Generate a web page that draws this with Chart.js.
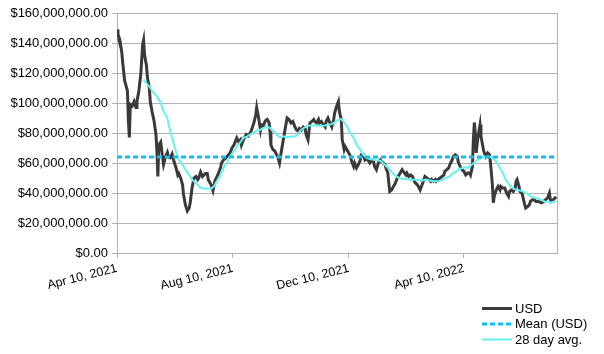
<!DOCTYPE html>
<html>
<head>
<meta charset="utf-8">
<script src="https://cdn.jsdelivr.net/npm/chart.js@4"></script>
<style>
  html, body { margin: 0; padding: 0; background: #fff; }
  canvas { display: block; }
</style>
</head>
<body>
<canvas id="usdChart" width="604" height="354"></canvas>
<script>
// days counted from Apr 10, 2021
const usdDays = [0,1,3,5,6,8,11,12,13,14,16,18,20,21,23,25,27,28,29,31,32,34,35,37,39,41,42,43,44,46,48,49,51,53,54,56,58,60,62,64,65,67,69,70,72,74,76,77,79,81,83,85,86,88,90,93,
  95,96,99,101,103,106,109,110,112,114,116,119,121,123,126,128,130,131,133,136,138,141,144,146,147,149,151,152,154,156,158,160,161,162,164,166,168,169,171,173,175,177,179,181,183,185,
  187,189,191,192,194,196,198,199,201,203,205,207,208,210,212,213,215,217,219,220,222,224,226,228,229,231,233,234,236,237,239,240,243,245,247,249,250,252,254,256,257,259,261,263,264,266,268,270,271,273,275,277,
  278,280,282,283,285,286,287,289,291,293,295,298,300,301,304,305,307,309,311,312,314,316,318,319,321,323,324,326,328,330,331,333,335,336,338,340,342,344,345,347,349,351,352,354,356,358,359,361,363,365,367,369,
  371,372,374,375,376,377,378,379,380,382,383,385,386,388,390,392,393,394,395,396,397,399,401,403,404,406,408,410,412,413,415,417,419,420,421,423,424,426,427,429,430,432,434,435,437,439,441,442,444,446,447,449,451,453,455,456,457,459,461,462];
// USD, in millions
const usdMillions = [149,146,142,134,127,115,108,88,77,99,98,101,97,101,108,119,139,142,132,125,117,110,101,94,88,79,68,51,72,74,63.5,59,64,67,64,63.5,66,61,57,52,53,50,45.5,39,32,28,30,33.5,43.5,50,51,49,50,54,51,53,
  53,49,45.5,41.5,48,52,57,60,62,63,64.5,66.7,70,72,76.7,74,75.5,72,75.5,79,78,81,86.7,92,97,90,82,85.5,85,88,89,87,81,72,69,68,65.5,64.5,60,68,75.5,83,90,89,86.7,87.7,
  84.4,82,81,83,82,84,83,79,75.5,86.7,87.7,89,87.7,86.7,89,86.7,87.7,85.5,84,87.7,90,86.7,84,89,93.3,97.7,101,94.4,89,75.5,69,71,67.7,65.5,61,57.7,60,56.7,59,62,65.5,65.5,62,63,62,60,62,61,57.7,55.5,60,62,
  61,60,59,56.7,53.3,46.7,41,42,44.4,46.7,50,53.3,55.5,54.5,52,53.3,51,52,51,49,46.7,45.5,43.3,42,45.5,49,51,50,49,47.8,49,47.8,49,47.8,49,50,51,52,54.4,55.5,56.7,60,61,64.4,65.5,64.4,61,57.7,55.5,54.5,52,53.3,
  53.3,52,57.7,75.5,87,80,66.7,73,77.8,85.5,77.8,71,67.7,64.4,66.7,65.5,60,53.3,45.5,33.5,37.8,42,44.4,42,44.4,43.3,43.3,40,37.8,41,42,41,43.3,47.8,48.9,44.4,41,40,37.8,32.2,30,31,32.2,34.4,35.5,35.5,34.4,34.4,34.4,33.5,33.5,34.4,35.5,36.7,40,35.5,34.4,35.5,36.7,36];

const avgDays = [28,34,37,42,46,49,53,56,59,62,65,69,72,76,79,83,88,93,99,102,105,109,112,116,119,123,126,130,133,137,140,144,147,151,154,158,161,165,168,172,
  175,179,182,184,187,191,194,198,201,205,208,212,215,219,222,226,229,233,236,238,242,245,249,252,256,259,263,266,270,273,277,283,287,290,294,297,301,304,308,311,
  315,318,322,325,329,332,336,339,343,346,350,353,357,360,364,367,369,372,376,379,383,386,390,392,395,399,402,406,409,413,416,420,423,427,430,434,437,441,444,448,451,455,458,462];
const avgMillions = [115.5,111,108,104.4,100,94.4,90,81,74.4,67.7,62,59,55.5,52,49,46.7,43.3,43,42.9,44.4,47.8,52,56.7,60.7,64.4,67.7,71,74,76.7,77.8,78.9,80.4,81.5,82.2,83.3,84.4,83.3,81,78.9,77,
  77.8,77,77.5,77.8,77.5,80,82.2,84,84.9,85,85,84.9,84.9,85,85.5,85.9,87.1,88.9,89.3,87.8,84.4,80.4,76.7,72.2,68.9,65.5,63.3,62.6,62.2,61.8,61.5,58.2,55.5,53.3,51,50,49.3,49.3,48.9,48.9,
  48.9,48.4,48.4,48.9,48.4,48,47.8,47.8,48.9,50,51,52.9,54.4,56,56.7,57.1,56.7,58.2,60.4,62.2,63.3,64,64.4,64.4,63.3,61,57.7,53.3,48.9,45.5,43.3,42.2,41.8,41.1,40,38.4,37.3,36.7,36,34.9,34,33.8,34,34.4];

const meanUsd = 64000000;

const tickDays = [0, 122, 244, 365];
const tickLabels = ['Apr 10, 2021', 'Aug 10, 2021', 'Dec 10, 2021', 'Apr 10, 2022'];
const dayMin = 0, dayMax = 463;

const gridColor = '#b3b3b3';
Chart.defaults.font.family = '"Liberation Sans", Arial, sans-serif';

const toPoints = (days, vals) => days.map((d, i) => ({ x: d, y: vals[i] * 1e6 }));

// right border of the plot area
const frameRight = {
    id: 'frameRight',
    beforeDatasetsDraw(chart) {
        const { ctx, chartArea } = chart;
        const x = Math.round(chartArea.right) + 0.5;
        ctx.save();
        ctx.strokeStyle = gridColor;
        ctx.lineWidth = 1;
        ctx.beginPath();
        ctx.moveTo(x, chartArea.top);
        ctx.lineTo(x, chartArea.bottom);
        ctx.stroke();
        ctx.restore();
    }
};

// stacked legend bottom right
const stackedLegend = {
    id: 'stackedLegend',
    afterDraw(chart) {
        const ctx = chart.ctx;
        ctx.save();
        chart.data.datasets.forEach((ds, i) => {
            const y = 308.5 + i * 15.5;
            ctx.beginPath();
            ctx.strokeStyle = ds.borderColor;
            ctx.lineWidth = ds.borderWidth;
            ctx.setLineDash(ds.borderDash || []);
            ctx.moveTo(482, y);
            ctx.lineTo(512, y);
            ctx.stroke();
            ctx.setLineDash([]);
            ctx.fillStyle = '#000';
            ctx.font = '13px "Liberation Sans", Arial, sans-serif';
            ctx.textBaseline = 'middle';
            ctx.fillText(ds.label, 515, y + 0.5);
        });
        ctx.restore();
    }
};

new Chart(document.getElementById('usdChart'), {
    type: 'line',
    data: {
        datasets: [
            {
                label: 'USD',
                data: toPoints(usdDays, usdMillions),
                borderColor: '#3a3a3a',
                borderWidth: 3,
                pointRadius: 0,
                order: 3
            },
            {
                label: 'Mean (USD)',
                data: [{ x: dayMin, y: meanUsd }, { x: dayMax, y: meanUsd }],
                borderColor: '#0ebef0',
                borderWidth: 3,
                borderDash: [5, 3],
                pointRadius: 0,
                order: 1
            },
            {
                label: '28 day avg.',
                data: toPoints(avgDays, avgMillions),
                borderColor: '#66f2f2',
                borderWidth: 2,
                pointRadius: 0,
                order: 2
            }
        ]
    },
    options: {
        responsive: false,
        animation: false,
        layout: { padding: { top: 13, right: 47, left: 0, bottom: 0 } },
        plugins: {
            legend: { display: false },
            tooltip: { enabled: false }
        },
        scales: {
            x: {
                type: 'linear',
                min: dayMin,
                max: dayMax,
                afterBuildTicks: scale => {
                    scale.ticks = tickDays.map(v => ({ value: v }));
                },
                afterFit: scale => { scale.height = 101; },
                ticks: {
                    autoSkip: false,
                    minRotation: 14,
                    maxRotation: 14,
                    color: '#000',
                    font: { size: 12.5 },
                    callback: (value, index) => tickLabels[index]
                },
                grid: { drawOnChartArea: false, tickLength: 5, color: gridColor },
                border: { color: gridColor }
            },
            y: {
                min: 0,
                max: 160000000,
                afterFit: scale => { scale.width = 117; },
                ticks: {
                    stepSize: 20000000,
                    color: '#000',
                    padding: 4,
                    font: { size: 13 },
                    callback: v => '$' + v.toLocaleString('en-US', { minimumFractionDigits: 2, maximumFractionDigits: 2 })
                },
                grid: { color: gridColor, tickLength: 5 },
                border: { color: gridColor }
            }
        }
    },
    plugins: [frameRight, stackedLegend]
});
</script>
</body>
</html>
